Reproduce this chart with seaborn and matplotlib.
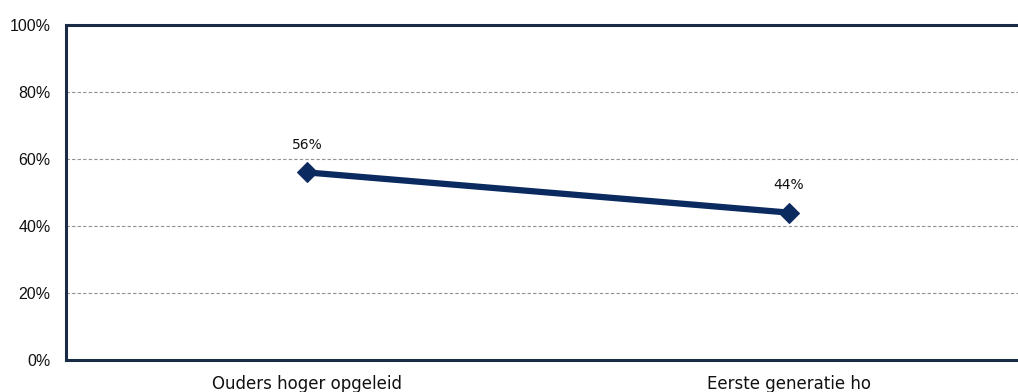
import matplotlib
matplotlib.use("Agg")
import matplotlib.pyplot as plt
import seaborn as sns
import pandas as pd

categories = ["Ouders hoger opgeleid", "Eerste generatie ho"]
values = [56, 44]
yticks = [0, 20, 40, 60, 80, 100]
ytick_labels = ["0%", "20%", "40%", "60%", "80%", "100%"]

sns.set_theme(style="white")
plt.rcParams['font.family'] = ['DejaVu Sans']

df = pd.DataFrame({"cat": categories, "val": values, "pos": [0, 1]})

fig = plt.figure(figsize=(10.18, 3.92), dpi=100)
ax = fig.add_axes([66/1018, 1 - 360/392, 1 - 66/1018, 335/392])

for y in yticks[1:-1]:
    ax.axhline(y, color="#909090", linestyle=(0, (3, 2)), linewidth=0.8, zorder=1)

sns.lineplot(data=df, x="pos", y="val", ax=ax, color="#0b2a5f", linewidth=4.5,
             marker="D", markersize=10, markeredgecolor="#0b2a5f", zorder=3)

for p, v in zip(df["pos"], df["val"]):
    ax.text(p - 0.031, v + 8.2, f"{v}%", ha="left", va="center", fontsize=10, color="#111111",
            family="DejaVu Sans")

ax.set_xlim(-0.5, (1018 - 308) / 481)
ax.set_ylim(0, 100)
ax.set_yticks(yticks)
ax.set_yticklabels(ytick_labels, family="Liberation Sans", fontsize=11.5, color="#111111")
ax.set_xticks([0, 1])
ax.set_xticklabels(categories, fontsize=12, color="#111111")
ax.tick_params(axis="x", length=0, pad=11)
ax.tick_params(axis="y", length=0, pad=11)
ax.set_xlabel("")
ax.set_ylabel("")

for s in ["left", "top", "bottom"]:
    ax.spines[s].set_color("#1a2b45")
    ax.spines[s].set_linewidth(2.2)
ax.spines["right"].set_visible(False)

fig.savefig("out.png", dpi=100)
